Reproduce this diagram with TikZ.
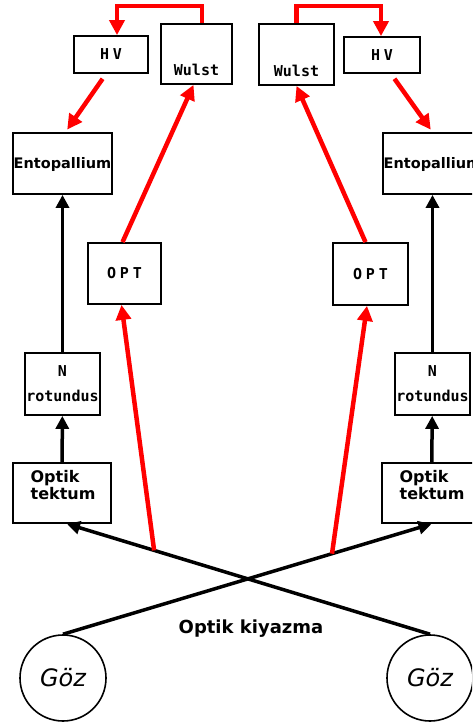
\documentclass[tikz,border=0pt]{standalone}
\usepackage{fontspec}
\setmainfont{DejaVu Sans}
\newfontfamily\boxfont{DejaVu Sans Mono}
\newfontfamily\spacedfont[LetterSpace=25]{DejaVu Sans Mono}
\usetikzlibrary{arrows.meta}
\tikzset{box/.style={draw, line width=1.8pt, inner sep=0pt, align=center,
           font=\boxfont\bfseries\fontsize{15pt}{25pt}\selectfont},
         spaced/.style={font=\spacedfont\bfseries\fontsize{15pt}{25pt}\selectfont},
         heavy/.style={font=\bfseries\fontsize{14.5pt}{17pt}\selectfont, align=center},
         tektext/.style={font=\bfseries\fontsize{16pt}{17pt}\selectfont, align=left},
         eye/.style={circle, draw, line width=1.6pt, minimum size=86pt, inner sep=0pt,
           font=\itshape\fontsize{24pt}{24pt}\selectfont},
         redarrow/.style={draw=red, line width=4.5pt, -{Triangle[length=15pt,width=15pt]}},
         blackarrow/.style={draw=black, line width=3.5pt, -{Triangle[length=13pt,width=13pt]}}}

\begin{document}
\begin{tikzpicture}[x=1pt,y=-1pt]
  \useasboundingbox (0,0) rectangle (472,727);
  \clip (0,0) rectangle (472,727);
  % left half
  \node[box, spaced, minimum width=74pt, minimum height=37pt] (hvL) at (111,54.5) {HV};
  \node[box, minimum width=71pt, minimum height=60pt,
        label={[box, draw=none, anchor=base, yshift=9pt]south:Wulst}] (wulstL) at (196.5,54) {};
  \node[box, minimum width=99pt, minimum height=61pt,
        label={[heavy, anchor=base, yshift=-1pt]center:Entopallium}] (entoL) at (62.5,163.5) {};
  \node[box, spaced, minimum width=73pt, minimum height=61pt] (optL) at (124.5,273.5) {OPT};
  \node[box, minimum width=75pt, minimum height=62pt] (rotL) at (62.5,384) {N\\rotundus};
  \node[box, minimum width=98pt, minimum height=60pt,
        label={[tektext, anchor=north west, xshift=15pt, yshift=-5pt]north west:Optik\\tektum}] (tekL) at (62,493) {};
  \node[eye] (gozL) at (63,678) {Göz};
  % right half
  \node[box, minimum width=75pt, minimum height=61pt,
        label={[box, draw=none, anchor=base, yshift=9pt]south:Wulst}] (wulstR) at (296.5,54.5) {};
  \node[box, spaced, minimum width=76pt, minimum height=36pt] (hvR) at (382,55) {HV};
  \node[box, minimum width=99pt, minimum height=61pt,
        label={[heavy, anchor=base, yshift=-1pt]center:Entopallium}] (entoR) at (432.5,163.5) {};
  \node[box, spaced, minimum width=75pt, minimum height=62pt] (optR) at (370.5,274) {OPT};
  \node[box, minimum width=75pt, minimum height=62pt] (rotR) at (432.5,384) {N\\rotundus};
  \node[box, minimum width=99pt, minimum height=60pt,
        label={[tektext, anchor=north west, xshift=15pt, yshift=-5pt]north west:Optik\\tektum}] (tekR) at (431.5,493) {};
  \node[eye] (gozR) at (430,678) {Göz};
  \node[heavy, font=\bfseries\fontsize{18pt}{20pt}\selectfont, anchor=base] (kiyazma) at (251,633) {Optik kiyazma};

  \draw[blackarrow] (gozR.north) -- coordinate[pos=0.76] (splitL) ([xshift=5pt]tekL.south);
  \draw[blackarrow] (gozL.north) -- coordinate[pos=0.73] (splitR) (tekR.south);
  \draw[blackarrow] (tekL) -- (rotL);
  \draw[blackarrow] (rotL) -- (entoL);
  \draw[blackarrow] (tekR) -- (rotR);
  \draw[blackarrow] (rotR) -- (entoR);

  \draw[redarrow] (splitL) -- ([xshift=-3pt]optL.south);
  \draw[redarrow] ([xshift=-2pt]optL.north) -- ([xshift=-3pt]wulstL.south);
  \draw[redarrow] ([xshift=5.5pt]wulstL.north) -- ++(0,-17) -| ([xshift=6pt]hvL.north);
  \draw[redarrow, shorten <=6pt, shorten >=3pt] ([xshift=-5pt]hvL.south) -- ([xshift=3pt]entoL.north);
  \draw[redarrow] (splitR) -- ([xshift=-3.5pt]optR.south);
  \draw[redarrow] ([xshift=-5pt]optR.north) -- (wulstR.south);
  \draw[redarrow] (wulstR.north) -- ++(0,-17) -| ([xshift=-1pt]hvR.north);
  \draw[redarrow, shorten <=6pt, shorten >=3pt] ([xshift=9pt]hvR.south) -- (entoR.north);
\end{tikzpicture}
\end{document}
